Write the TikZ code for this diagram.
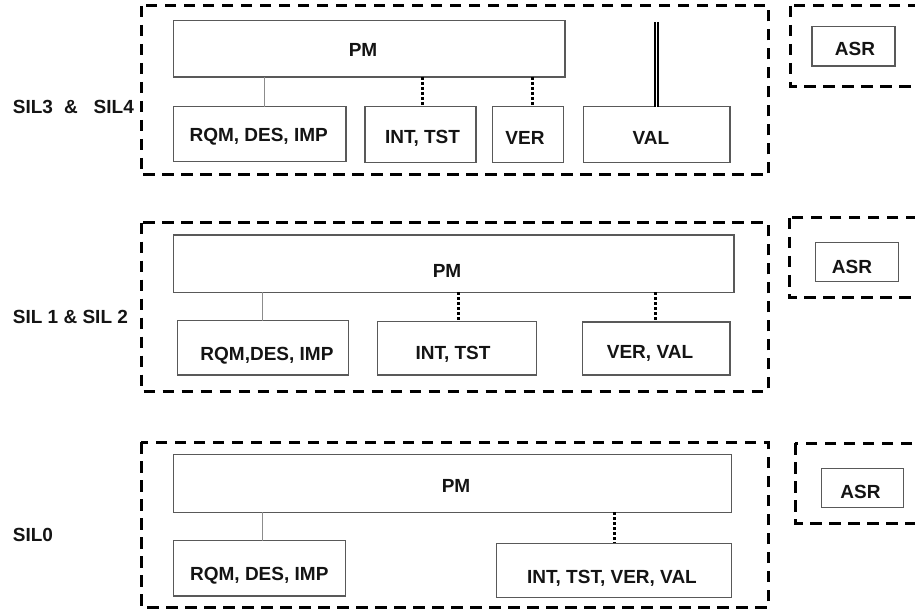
\documentclass[tikz,border=0pt]{standalone}
\usepackage{fontspec}
\setmainfont{Liberation Sans}
\begin{document}
\begin{tikzpicture}[x=1pt,y=-1pt,
  box/.style={draw=black!65, line width=1.1pt, inner sep=0pt, outer sep=0pt, anchor=north west},
  grp/.style={draw=black, line width=3pt, dash pattern=on 11.5pt off 7.5pt},
  lbl/.style={font=\fontsize{19}{22}\selectfont\bfseries, text=black!92, inner sep=0pt, text height=13.6pt, text depth=0pt},
  solidc/.style={draw=black!45, line width=1pt},
  dotc/.style={draw=black, line width=3pt, dash pattern=on 3pt off 2pt},
  dblc/.style={draw=black, line width=1.6pt, double=white, double distance=1.4pt}]
\useasboundingbox (0,0) rectangle (915,612);
\clip (0,0) rectangle (915,612);

% ---------- dashed groups ----------
\draw[grp] (141,6) rectangle (768.5,175);
\draw[grp] (141,222.7) rectangle (768,391);
\draw[grp] (141,442) rectangle (768,607);
\draw[grp] (790,6) rectangle (935,87);
\draw[grp] (789,218) rectangle (935,297.7);
\draw[grp] (795,443.3) rectangle (935,523.3);

% ---------- side labels ----------
\node[lbl, anchor=west] (s34) at (12.7,106.7) {SIL3\hspace{11pt}\&\hspace{16pt}SIL4};
\node[lbl, anchor=west] (s12) at (12.7,316.5) {SIL 1 \& SIL 2};
\node[lbl, anchor=west] (s0) at (12.7,535) {SIL0};

% ---------- top section (SIL3 & SIL4) ----------
\node[box, minimum width=391.5pt, minimum height=56.3pt] (pm1) at (173.5,20.7) {};
\node[box, minimum width=172.5pt, minimum height=55pt] (rqm1) at (173.5,106.7) {};
\node[box, minimum width=111pt, minimum height=55.5pt] (int1) at (365,106.7) {};
\node[box, minimum width=71pt, minimum height=55.5pt] (ver1) at (492.5,106.7) {};
\node[box, minimum width=146.5pt, minimum height=55.5pt] (val1) at (583.5,106.7) {};
\node[box, minimum width=83pt, minimum height=39.3pt] (asr1) at (812,26.7) {};

\node[lbl] (tpm1) at (363,50) {PM};
\node[lbl] (trqm1) at (258.7,135) {RQM, DES, IMP};
\node[lbl] (tint1) at (422.5,136.7) {INT, TST};
\node[lbl] (tver1) at (525,138) {VER};
\node[lbl] (tval1) at (651,138) {VAL};
\node[lbl] (tasr1) at (855,48.3) {ASR};

\coordinate (x1a) at (264,0);
\coordinate (x1b) at (422.7,0);
\coordinate (x1c) at (532.7,0);
\coordinate (v1top) at (656.5,22);
\draw[solidc] (pm1.south -| x1a) -- (rqm1.north -| x1a);
\draw[dotc] (pm1.south -| x1b) -- (int1.north -| x1b);
\draw[dotc] (pm1.south -| x1c) -- (ver1.north -| x1c);
\draw[dblc] (v1top) -- (val1.north -| v1top);

% ---------- middle section (SIL 1 & SIL 2) ----------
\node[box, minimum width=560.5pt, minimum height=57.3pt] (pm2) at (173.5,235) {};
\node[box, minimum width=171pt, minimum height=54.3pt] (rqm2) at (177.5,320.7) {};
\node[box, minimum width=159pt, minimum height=53.3pt] (int2) at (377.5,321.7) {};
\node[box, minimum width=147.5pt, minimum height=53pt] (vv2) at (582.5,322) {};
\node[box, minimum width=83pt, minimum height=39pt] (asr2) at (815.5,242.7) {};

\node[lbl] (tpm2) at (447,271) {PM};
\node[lbl] (trqm2) at (267,354) {RQM,DES, IMP};
\node[lbl] (tint2) at (453,353) {INT, TST};
\node[lbl] (tvv2) at (650,351.7) {VER, VAL};
\node[lbl] (tasr2) at (852,266.7) {ASR};

\coordinate (x2a) at (262.5,0);
\coordinate (x2b) at (458.5,0);
\coordinate (x2c) at (655,0);
\draw[solidc] (pm2.south -| x2a) -- (rqm2.north -| x2a);
\draw[dotc] (pm2.south -| x2b) -- (int2.north -| x2b);
\draw[dotc] (pm2.south -| x2c) -- (vv2.north -| x2c);

% ---------- bottom section (SIL0) ----------
\node[box, minimum width=558pt, minimum height=58pt] (pm3) at (173.5,454.3) {};
\node[box, minimum width=172pt, minimum height=55.3pt] (rqm3) at (173.5,540.7) {};
\node[box, minimum width=235pt, minimum height=54pt] (all3) at (496.5,543.3) {};
\node[box, minimum width=82pt, minimum height=39pt] (asr3) at (821.5,468.3) {};

\node[lbl] (tpm3) at (456,485.7) {PM};
\node[lbl] (trqm3) at (259.3,574) {RQM, DES, IMP};
\node[lbl] (tall3) at (612,576.5) {INT, TST, VER, VAL};
\node[lbl] (tasr3) at (860.5,491.7) {ASR};

\coordinate (x3a) at (262.5,0);
\coordinate (x3b) at (614,0);
\draw[solidc] (pm3.south -| x3a) -- (rqm3.north -| x3a);
\draw[dotc] (pm3.south -| x3b) -- (all3.north -| x3b);
\end{tikzpicture}
\end{document}
